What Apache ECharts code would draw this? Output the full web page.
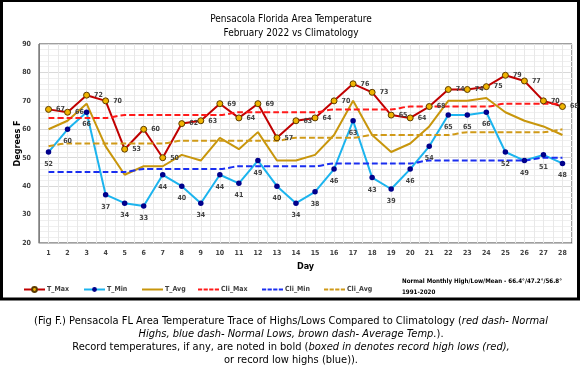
<!DOCTYPE html>
<html>
<head>
<meta charset="utf-8">
<script src="https://cdn.jsdelivr.net/npm/echarts@6/dist/echarts.min.js"></script>
<style>
    html, body { margin: 0; padding: 0; background: #fff; }
    #chart1 { width: 582px; height: 376px; }
</style>
</head>
<body>
<div id="chart1"></div>
<script>
// data
var days = ['1', '2', '3', '4', '5', '6', '7', '8', '9', '10', '11', '12', '13', '14',
    '15', '16', '17', '18', '19', '20', '21', '22', '23', '24', '25', '26', '27', '28'];
var tMax = [67, 66, 72, 70, 53, 60, 50, 62, 63, 69, 64, 69, 57, 63, 64, 70, 76, 73, 65, 64, 68, 74, 74, 75, 79, 77, 70, 68];
var tMin = [52, 60, 66, 37, 34, 33, 44, 40, 34, 44, 41, 49, 40, 34, 38, 46, 63, 43, 39, 46, 54, 65, 65, 66, 52, 49, 51, 48];
var tAvg = [60, 63, 69, 54, 44, 47, 47, 51, 49, 57, 53, 59, 49, 49, 51, 58, 70, 58, 52, 55, 61, 70, 70, 71, 66, 63, 61, 58];
var cliMax = [64, 64, 64, 64, 65, 65, 65, 65, 65, 65, 66, 66, 66, 66, 66, 67, 67, 67, 67, 68, 68, 68, 68, 68, 69, 69, 69, 69];
var cliMin = [45, 45, 45, 45, 45, 46, 46, 46, 46, 46, 47, 47, 47, 47, 47, 48, 48, 48, 48, 48, 49, 49, 49, 49, 49, 49, 50, 50];
var cliAvg = [54, 55, 55, 55, 55, 55, 55, 56, 56, 56, 56, 56, 56, 57, 57, 57, 57, 58, 58, 58, 58, 58, 59, 59, 59, 59, 59, 60];
var yTicks = { min: 20, max: 90, step: 10 };
var legendNames = ['T_Max', 'T_Min', 'T_Avg', 'Cli_Max', 'Cli_Min', 'Cli_Avg'];

var font = '"DejaVu Sans Condensed", "Liberation Sans", sans-serif';

// legend icons, 21x6 box (the two zero-size corners keep the box size)
var iconSolid = 'path://M0,0L0,0Z M0,2h21v2h-21z M21,6L21,6Z';
var iconDash = 'path://M0,0L0,0Z M0,2h4.2v2h-4.2z M5.6,2h4.2v2h-4.2z M11.2,2h4.2v2h-4.2z M16.8,2h4.2v2h-4.2z M21,6L21,6Z';

drawChart1();

function dashLine(name, data, color) {
    return {
        name: name,
        type: 'line',
        data: data,
        smooth: 0.3,
        symbol: 'none',
        lineStyle: { color: color, width: 2, type: [6, 3] },
        itemStyle: { color: color }
    };
}

// one small legend per item, so each sits where the reference has it
function legendItem(name, left, icon) {
    var item = { name: name };
    if (icon) {
        item.icon = icon;
    }
    return {
        left: left,
        top: 281,
        itemWidth: 21,
        itemHeight: 6,
        textStyle: {
            fontFamily: font,
            fontSize: 7,
            fontWeight: 'bold',
            color: '#404040',
            padding: [0, 0, 0, -3]
        },
        data: [item]
    };
}

function captionLine(text, y) {
    return {
        type: 'text',
        x: 291,
        y: y,
        style: {
            text: text,
            textAlign: 'center',
            textVerticalAlign: 'middle',
            rich: {
                n: { fontFamily: font, fontSize: 11, color: '#000' },
                i: { fontFamily: font, fontSize: 11, fontStyle: 'italic', color: '#000' }
            }
        }
    };
}

function drawChart1() {
    var dom1 = document.getElementById("chart1");
    var myChart1 = echarts.init(dom1, null, { renderer: 'canvas' });
    var option = {
        backgroundColor: '#fff',
        animation: false,
        title: {
            text: 'Pensacola Florida Area Temperature\nFebruary 2022 vs Climatology',
            left: 'center',
            top: 7,
            textStyle: {
                fontFamily: font,
                fontSize: 10,
                fontWeight: 'normal',
                lineHeight: 14,
                color: '#000'
            }
        },
        legend: [
            legendItem(legendNames[0], 18, null),
            legendItem(legendNames[1], 78, null),
            legendItem(legendNames[2], 137, iconSolid),
            legendItem(legendNames[3], 193, iconDash),
            legendItem(legendNames[4], 257, iconDash),
            legendItem(legendNames[5], 319, iconDash)
        ],
        grid: {
            left: 39,
            top: 44,
            width: 533,
            height: 199,
            show: true,
            borderColor: '#404040',
            borderWidth: 1,
            containLabel: false,
            outerBoundsMode: 'none'
        },
        xAxis: [{
            type: 'category',
            data: days,
            boundaryGap: true,
            name: 'Day',
            nameLocation: 'middle',
            nameGap: 19,
            nameTextStyle: { fontFamily: font, fontSize: 9, fontWeight: 'bold', color: '#000' },
            axisLine: { lineStyle: { color: '#bfbfbf' } },
            axisTick: { show: false },
            axisLabel: { fontFamily: font, fontSize: 7, fontWeight: 'bold', color: '#404040', margin: 7, interval: 0 },
            splitLine: { show: false }
        }, {
            // half-day vertical grid lines
            type: 'value',
            min: 0,
            max: days.length,
            interval: 0.5,
            position: 'bottom',
            axisLine: { show: false },
            axisTick: { show: false },
            axisLabel: { show: false },
            splitLine: { show: true, lineStyle: { color: '#e8e8e8' } }
        }],
        yAxis: [{
            type: 'value',
            min: yTicks.min,
            max: yTicks.max,
            interval: yTicks.step,
            name: 'Degrees F',
            nameLocation: 'middle',
            nameGap: 17,
            nameMoveOverlap: false,
            nameTextStyle: { fontFamily: font, fontSize: 9, fontWeight: 'bold', color: '#000' },
            axisLine: { show: true, lineStyle: { color: '#808080' } },
            axisTick: { show: false },
            axisLabel: { fontFamily: font, fontSize: 7, fontWeight: 'bold', color: '#404040', margin: 8 },
            splitLine: { lineStyle: { color: '#d9d9d9' } },
            minorTick: { show: false, splitNumber: 5 },
            minorSplitLine: { show: true, lineStyle: { color: '#efefef' } }
        }],
        series: [{
            name: 'T_Max',
            type: 'line',
            data: tMax,
            symbol: 'circle',
            symbolSize: 6,
            lineStyle: { color: '#c00000', width: 2 },
            itemStyle: { color: '#f0b400', borderColor: '#5c3b00', borderWidth: 1 },
            label: {
                show: true,
                position: 'right',
                distance: 4,
                fontFamily: font,
                fontSize: 7,
                fontWeight: 'bold',
                color: '#404040'
            }
        }, {
            name: 'T_Min',
            type: 'line',
            data: tMin,
            symbol: 'circle',
            symbolSize: 5.5,
            lineStyle: { color: '#1cb4ee', width: 2 },
            itemStyle: { color: '#00008c', borderWidth: 0 },
            label: {
                show: true,
                position: 'bottom',
                distance: 6,
                fontFamily: font,
                fontSize: 7,
                fontWeight: 'bold',
                color: '#404040'
            }
        }, {
            name: 'T_Avg',
            type: 'line',
            data: tAvg,
            symbol: 'none',
            lineStyle: { color: '#c8960c', width: 2 },
            itemStyle: { color: '#c8960c' }
        },
            dashLine('Cli_Max', cliMax, '#ff1a1a'),
            dashLine('Cli_Min', cliMin, '#1a2ef0'),
            dashLine('Cli_Avg', cliAvg, '#d09a18')
        ],
        graphic: [{
            // outer frame
            type: 'polyline',
            shape: { points: [[1.5, 0], [1.5, 299], [578.5, 299], [578.5, 0]] },
            style: { stroke: '#000', lineWidth: 3, fill: null }
        }, {
            type: 'line',
            shape: { x1: 0, y1: 1, x2: 580, y2: 1 },
            style: { stroke: '#000', lineWidth: 2 }
        }, {
            type: 'text',
            left: 402,
            top: 278,
            style: {
                text: '{b|Normal Monthly High/Low/Mean - }{r|66.4°}{b|/}{c|47.2°}{b|/}{y|56.8°}\n{b|1991-2020}',
                rich: {
                    b: { fontFamily: font, fontSize: 6.2, fontWeight: 'bold', color: '#262626', lineHeight: 11 },
                    r: { fontFamily: font, fontSize: 6.2, fontWeight: 'bold', color: '#ff4040', lineHeight: 11 },
                    c: { fontFamily: font, fontSize: 6.2, fontWeight: 'bold', color: '#38bdf0', lineHeight: 11 },
                    y: { fontFamily: font, fontSize: 6.2, fontWeight: 'bold', color: '#d4a21a', lineHeight: 11 }
                }
            }
        },
            captionLine('{n|(Fig F.) Pensacola FL Area Temperature Trace of Highs/Lows Compared to Climatology (}{i|red dash- Normal}', 321),
            captionLine('{i|Highs, blue dash- Normal Lows, brown dash- Average Temp.}{n|).}', 334),
            captionLine('{n|Record temperatures, if any, are noted in bold (}{i|boxed in denotes record high lows (red),}', 347),
            captionLine('{n|or record low highs (blue)).}', 360)
        ]
    };
    if (option && typeof option === "object") {
        myChart1.setOption(option, true);
        window.onresize = myChart1.resize;
    }
}
</script>
</body>
</html>
